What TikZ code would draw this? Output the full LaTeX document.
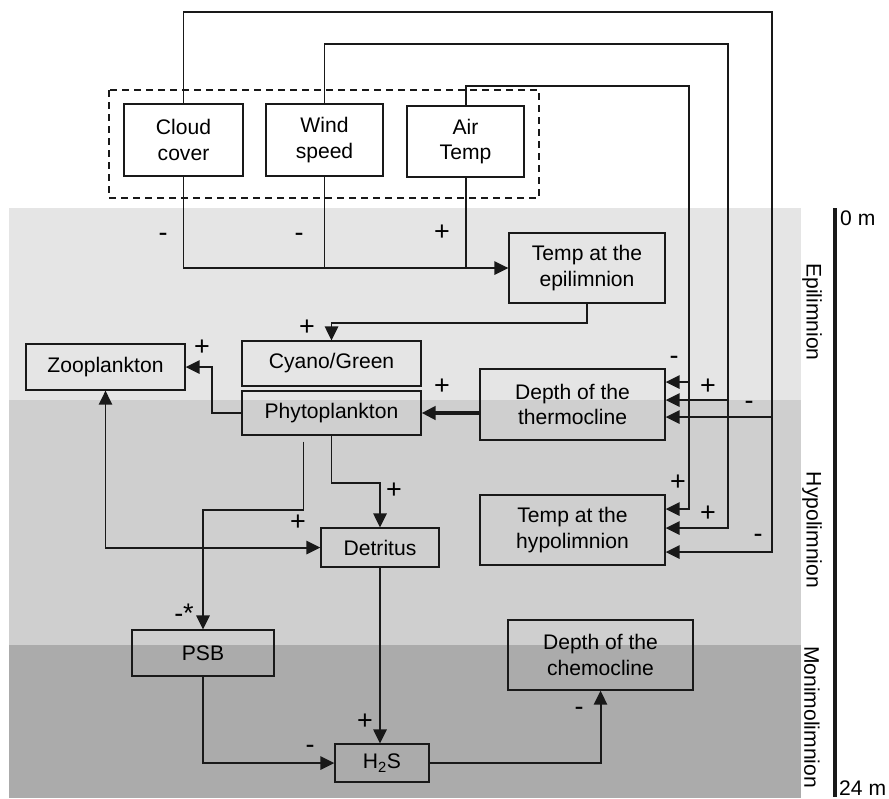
\documentclass[tikz,border=0pt]{standalone}
\usepackage{fontspec}
\setmainfont{Liberation Sans}
\usetikzlibrary{arrows.meta,calc}
\definecolor{epicol}{gray}{0.898}
\definecolor{hypocol}{gray}{0.812}
\definecolor{monicol}{gray}{0.671}
\definecolor{linecol}{gray}{0.1}

\begin{document}
\begin{tikzpicture}[x=0.03cm,y=-0.03cm]
\tikzset{font={\fontsize{18}{22}\selectfont}}
\tikzset{box/.style={draw=linecol,line width=1.1pt,align=center,inner sep=0pt},
  line/.style={draw=linecol,line width=1.7pt},
  conn/.style={line,-{Triangle[length=0.42cm,width=0.4cm]}},
  both/.style={line,{Triangle[length=0.42cm,width=0.4cm]}-{Triangle[length=0.42cm,width=0.4cm]}},
  sign/.style={inner sep=0pt,font={\fontsize{23}{26}\selectfont}}}
\useasboundingbox (0,0) rectangle (889,798);

%Layers
\foreach \ya/\yb/\c in {208/400/epicol,400/645/hypocol,645/798/monicol}
\fill[\c] (9,\ya) rectangle (801,\yb);

%Weather
\node[box,minimum width=3.57cm,minimum height=2.16cm] (cloud) at (183.5,140) {Cloud\\cover};
\node[box,minimum width=3.51cm,minimum height=2.16cm] (wind) at (324.5,140) {Wind\\speed};
\node[box,minimum width=3.51cm,minimum height=2.13cm] (air) at (465.5,141.5) {Air\\Temp};
\draw[linecol,line width=1.1pt,dash pattern=on 0.21cm off 0.15cm] (109,90) rectangle (539,198);

%Lake
\node[box,minimum width=4.68cm,minimum height=2.1cm] (epi) at (587,268) {Temp at the\\epilimnion};
\node[box,minimum width=5.37cm,minimum height=1.35cm] (cyano) at (331.5,363.5) {Cyano/Green};
\node[box,minimum width=5.37cm,minimum height=1.32cm] (phyto) at (331.5,413) {Phytoplankton};
\node[box,minimum width=4.77cm,minimum height=1.38cm] (zoo) at (105.5,367) {Zooplankton};
\node[box,minimum width=5.55cm,minimum height=2.13cm] (thermo) at (572.5,404.5) {Depth of the\\thermocline};
\node[box,minimum width=5.55cm,minimum height=2.1cm] (hypo) at (572.5,530) {Temp at the\\hypolimnion};
\node[box,minimum width=3.54cm,minimum height=1.17cm] (detritus) at (380,547.5) {Detritus};
\node[box,minimum width=4.26cm,minimum height=1.38cm] (psb) at (203,653) {PSB};
\node[box,minimum width=2.82cm,minimum height=1.14cm] (hs) at (382,763) {H\textsubscript{2}S};
\node[box,minimum width=5.55cm,minimum height=2.1cm] (chemo) at (600.5,655) {Depth of the\\chemocline};

%Weather to epilimnion
\draw[conn] (cloud.south) |- (epi.west);
\draw[line] (wind.south) -- (wind.south |- epi.west);
\draw[line] (air.south) -- (air.south |- epi.west);

%Feedback to thermocline and hypolimnion
\coordinate (busair) at (689,86);
\coordinate (buswind) at (728,44);
\coordinate (buscloud) at (772,12);
\draw[conn] (air.north) |- (busair) |- ($(hypo.east)+(0,-21)$);
\draw[conn] (busair) |- ($(thermo.east)+(0,-22.5)$);
\draw[conn] (wind.north) |- (buswind) |- ($(hypo.east)+(0,-2)$);
\draw[conn] (buswind) |- ($(thermo.east)+(0,-4.5)$);
\draw[conn] (cloud.north) |- (buscloud) |- ($(hypo.east)+(0,22)$);
\draw[conn] (buscloud) |- ($(thermo.east)+(0,12.5)$);

%Food web
\draw[conn] (epi.south) -- ++(0,19) -| (cyano.north);
\draw[conn] (phyto.west) -- ++(-29,0) |- (zoo.east);
\draw[conn,line width=3pt] (thermo.west |- phyto.east) -- (phyto.east);
\draw[conn] (phyto.south) -- ++(0,47) -| (detritus.north);
\draw[conn] ($(phyto.south)+(-28,6)$) -- ++(0,68) -| (psb.north);
\draw[both] (zoo.south) |- (detritus.west);
\draw[conn] (detritus.south) -- (detritus.south |- hs.north);
\draw[conn] (psb.south) |- (hs.west);
\draw[conn] (hs.east) -| (chemo.south);

%Signs
\foreach \x/\y/\s [count=\i] in {163/237/-,299/237/-,442/233/+,307/328/+,202/348/+,442/387/+,
  674/360/-,708/387/+,749/405/-,678/483/+,708/514/+,758/538/-,394/491/+,298/523/+,
  184/613/-*,365/722/+,310/749/-,579/711/-}
\node[sign] (s\i) at (\x,\y) {\s};

%Depth
\draw[linecol,line width=2.6pt] (835,208) -- (835,797);
\node[sign,anchor=west,font={\fontsize{18}{22}\selectfont}] (top) at (840,218) {0 m};
\node[sign,anchor=west,font={\fontsize{18}{22}\selectfont}] (bottom) at (839,788) {24 m};
\foreach \y/\t [count=\i] in {312/Epilimnion,530/Hypolimnion,717/Monimolimnion}
\node[rotate=-90] (layer\i) at (812,\y) {\t};

\end{tikzpicture}
\end{document}
